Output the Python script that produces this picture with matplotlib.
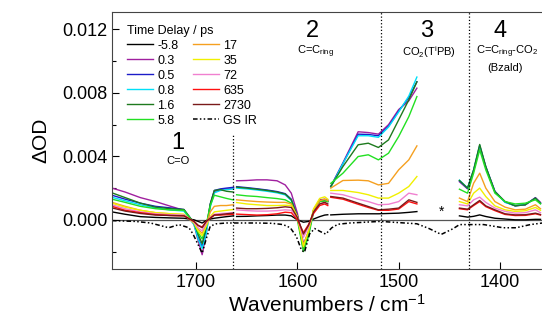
import matplotlib
matplotlib.use("Agg")
import matplotlib.pyplot as plt
import numpy as np

plt.rcParams['font.family'] = ['Liberation Sans', 'DejaVu Sans']
plt.rcParams['mathtext.fontset'] = 'custom'
plt.rcParams['mathtext.rm'] = 'Liberation Sans'
plt.rcParams['mathtext.it'] = 'Liberation Sans:italic'

# time delays (ps) and colours
delays = ["-5.8", "0.3", "0.5", "0.8", "1.6", "5.8", "17", "35", "72", "635", "2730"]
colors = ["#000000", "#a0209f", "#1c1cc8", "#00e0f8", "#1e7a1e", "#22e022",
          "#f5a020", "#f0f000", "#f080d0", "#ff1010", "#7a1a1a"]

# spectra in mOD, four windows, rows in the order of delays
wn_1 = [1783, 1770, 1755, 1740, 1725, 1712, 1702, 1698, 1694, 1690, 1686, 1682, 1676, 1670, 1663]
od_1 = [
    [0.5, 0.35, 0.2, 0.15, 0.12, 0.1, 0.0, -0.1, -0.2, -0.05, 0.05, 0.1, 0.15, 0.2, 0.25],
    [2.0, 1.75, 1.4, 1.15, 0.85, 0.6, -0.3, -1.3, -2.2, -0.9, 0.9, 1.75, 1.9, 1.95, 2.0],
    [1.55, 1.3, 1.05, 0.85, 0.75, 0.65, -0.2, -1.1, -1.7, -0.6, 1.0, 1.85, 1.95, 2.0, 2.05],
    [1.42, 1.2, 0.95, 0.75, 0.62, 0.55, -0.3, -1.2, -1.8, -0.9, 0.8, 1.7, 1.85, 1.9, 1.95],
    [1.7, 1.4, 1.05, 0.8, 0.7, 0.65, -0.2, -0.9, -1.5, -0.5, 1.0, 1.85, 1.9, 1.8, 1.75],
    [1.3, 1.1, 0.85, 0.7, 0.62, 0.6, -0.2, -0.8, -1.2, -0.3, 0.9, 1.55, 1.45, 1.35, 1.25],
    [1.1, 0.85, 0.6, 0.45, 0.38, 0.33, -0.2, -0.6, -0.85, -0.3, 0.5, 0.85, 0.9, 0.9, 0.95],
    [1.05, 0.8, 0.6, 0.45, 0.38, 0.35, -0.2, -0.7, -1.0, -0.4, 0.2, 0.5, 0.55, 0.6, 0.65],
    [0.95, 0.7, 0.5, 0.38, 0.32, 0.3, -0.15, -0.5, -0.7, -0.2, 0.15, 0.35, 0.4, 0.42, 0.45],
    [0.85, 0.6, 0.45, 0.33, 0.27, 0.25, -0.1, -0.35, -0.45, -0.1, 0.1, 0.3, 0.3, 0.32, 0.35],
    [0.75, 0.55, 0.4, 0.3, 0.27, 0.25, -0.1, -0.35, -0.5, -0.1, 0.1, 0.3, 0.33, 0.38, 0.42],
]

wn_2 = [1660, 1650, 1640, 1630, 1620, 1612, 1606, 1600, 1594, 1589, 1584, 1578, 1573, 1570]
od_2 = [
    [0.21, 0.22, 0.25, 0.27, 0.3, 0.3, 0.25, 0.0, -0.15, -0.1, 0.05, 0.2, 0.3, 0.32],
    [2.46, 2.48, 2.52, 2.52, 2.46, 2.2, 1.68, 0.42, -1.5, -0.8, 0.63, 1.26, 1.3, 1.26],
    [2.09, 2.03, 1.96, 1.88, 1.78, 1.65, 1.3, 0.25, -1.7, -0.8, 0.6, 1.2, 1.25, 1.2],
    [2.0, 1.95, 1.88, 1.8, 1.7, 1.57, 1.22, 0.18, -1.8, -0.9, 0.55, 1.18, 1.22, 1.15],
    [2.06, 2.0, 1.93, 1.85, 1.75, 1.62, 1.26, 0.21, -1.9, -0.84, 0.6, 1.15, 1.2, 1.15],
    [1.58, 1.51, 1.47, 1.4, 1.34, 1.26, 1.05, 0.0, -2.0, -1.05, 0.5, 1.15, 1.2, 1.15],
    [1.26, 1.2, 1.15, 1.12, 1.1, 1.1, 1.0, 0.2, -1.6, -0.7, 0.6, 1.2, 1.3, 1.2],
    [1.09, 1.0, 0.95, 0.9, 0.9, 0.92, 0.9, 0.2, -1.7, -0.7, 0.7, 1.35, 1.45, 1.3],
    [0.63, 0.58, 0.55, 0.55, 0.58, 0.63, 0.6, 0.1, -1.1, -0.45, 0.45, 1.0, 1.1, 1.0],
    [0.36, 0.33, 0.3, 0.32, 0.38, 0.48, 0.45, 0.0, -0.8, -0.3, 0.4, 0.9, 1.0, 0.9],
    [0.74, 0.7, 0.7, 0.72, 0.76, 0.82, 0.78, 0.15, -0.9, -0.35, 0.5, 1.0, 1.1, 1.0],
]

wn_3 = [1567, 1555, 1540, 1530, 1520, 1510, 1500, 1490, 1482]
od_3 = [
    [0.31, 0.35, 0.38, 0.38, 0.38, 0.4, 0.42, 0.47, 0.52],
    [2.1, 3.6, 5.55, 5.5, 5.4, 6.0, 6.95, 7.5, 8.3],
    [2.1, 3.55, 5.4, 5.38, 5.3, 5.9, 6.85, 7.7, 8.7],
    [2.05, 3.55, 5.3, 5.3, 5.2, 5.85, 6.8, 7.8, 9.0],
    [2.1, 3.36, 4.73, 4.83, 4.56, 5.04, 6.3, 7.56, 8.7],
    [2.3, 2.94, 3.99, 4.1, 3.78, 4.2, 5.25, 6.5, 7.77],
    [2.0, 2.48, 2.5, 2.46, 2.2, 2.3, 3.15, 3.78, 4.66],
    [1.85, 1.85, 1.72, 1.58, 1.37, 1.37, 1.68, 2.1, 2.73],
    [1.68, 1.58, 1.3, 1.15, 0.95, 0.98, 1.15, 1.68, 1.58],
    [1.42, 1.3, 0.98, 0.78, 0.6, 0.6, 0.68, 1.15, 1.0],
    [1.47, 1.37, 1.05, 0.84, 0.63, 0.67, 0.74, 1.26, 1.1],
]

wn_4 = [1440, 1432, 1426, 1420, 1414, 1405, 1395, 1385, 1375, 1365, 1360]
od_4 = [
    [0.25, 0.17, 0.22, 0.31, 0.21, 0.1, 0.05, 0.0, 0.0, 0.03, 0.03],
    [2.4, 1.95, 3.1, 4.6, 3.3, 1.75, 1.15, 0.9, 0.95, 1.4, 1.1],
    [2.45, 1.98, 3.1, 4.65, 3.35, 1.8, 1.12, 0.88, 0.95, 1.38, 1.05],
    [2.5, 2.0, 3.15, 4.7, 3.3, 1.75, 1.1, 0.9, 0.97, 1.35, 1.05],
    [2.48, 2.0, 3.15, 4.75, 3.36, 1.78, 1.15, 0.88, 0.95, 1.37, 1.05],
    [1.93, 1.68, 2.94, 4.41, 3.15, 1.68, 1.15, 1.0, 1.05, 1.26, 1.0],
    [1.37, 1.15, 2.31, 2.94, 2.0, 1.15, 0.8, 0.63, 0.67, 0.95, 0.7],
    [1.15, 1.0, 1.68, 2.0, 1.47, 0.88, 0.63, 0.53, 0.57, 0.78, 0.6],
    [0.95, 0.88, 1.26, 1.43, 1.1, 0.74, 0.53, 0.42, 0.45, 0.63, 0.45],
    [0.7, 0.63, 0.9, 1.15, 0.83, 0.58, 0.34, 0.27, 0.28, 0.38, 0.3],
    [0.74, 0.67, 0.95, 1.22, 0.88, 0.63, 0.38, 0.31, 0.32, 0.42, 0.33],
]

# ground state IR (scaled, mOD)
gs_wn = [1783, 1760, 1745, 1727, 1717, 1707, 1703, 1697, 1694, 1690, 1686, 1680,
         1670, 1640, 1625, 1614, 1607, 1601, 1596, 1593, 1588, 1583, 1577, 1572, 1566,
         1560, 1548, 1518, 1482, 1470, 1458, 1446, 1440, 1430, 1416, 1397, 1384, 1370, 1358]
gs_od = [-0.05, -0.1, -0.2, -0.5, -0.3, -0.5, -0.9, -1.7, -2.1, -1.2, -0.4, -0.25,
         -0.2, -0.2, -0.22, -0.3, -0.5, -1.05, -1.9, -2.05, -0.9, -0.55, -0.75, -0.9, -0.5,
         -0.28, -0.2, -0.1, -0.25, -0.55, -0.92, -0.55, -0.3, -0.3, -0.3, -0.5, -0.5, -0.3, -0.2]

regions = [(wn_1, od_1), (wn_2, od_2), (wn_3, od_3), (wn_4, od_4)]

fig = plt.figure(figsize=(5.42, 3.22), dpi=100)
ax = fig.add_axes([112 / 542, 1 - 269 / 322, 430 / 542, 257 / 322])

ax.axhline(0, color="#555555", lw=0.9, zorder=1)

for i, (lab, col) in enumerate(zip(delays, colors)):
    for j, (wn, od) in enumerate(regions):
        ax.plot(wn, np.array(od[i]) * 1e-3, color=col, lw=1.0,
                label=lab if j == 0 else None, zorder=2)

ax.plot(gs_wn, np.array(gs_od) * 1e-3, color="black", lw=1.1,
        ls=(0, (3, 1.5, 1, 1.5, 1, 1.5)), label="GS IR", zorder=2)

# window separators
ax.plot([1664, 1664], [-0.0031, 0.0054], color="black", ls=":", lw=0.9)
ax.axvline(1517, color="black", ls=":", lw=0.9)
ax.axvline(1431, color="black", ls=":", lw=0.9)

ax.set_xlim(1783, 1358.5)
ax.set_ylim(-0.0031, 0.0131)
ax.set_xticks([1700, 1600, 1500, 1400])
ax.set_yticks([0.0, 0.004, 0.008, 0.012])
ax.set_yticks([-0.002, 0.002, 0.006, 0.010], minor=True)
ax.yaxis.set_major_formatter(matplotlib.ticker.FormatStrFormatter('%.3f'))
ax.tick_params(which="major", direction="in", length=5, labelsize=13, width=0.8)
ax.tick_params(which="minor", direction="in", length=3, width=0.8)
ax.spines["right"].set_visible(False)
for s in ["left", "top", "bottom"]:
    ax.spines[s].set_color("#444444")

ax.set_xlabel("Wavenumbers / cm$^{-1}$", fontsize=15, labelpad=2)
ax.set_ylabel("\u0394OD", fontsize=15, labelpad=8)

leg = ax.legend(ncol=2, title="Time Delay / ps", loc="upper left",
                bbox_to_anchor=(0.035, 0.95), frameon=False, fontsize=9,
                title_fontsize=9, alignment="left", handlelength=2.1,
                handletextpad=0.3, columnspacing=1.2, labelspacing=0.24,
                borderpad=0.0, borderaxespad=0.0)

# band annotations
ax.text(1718, 0.00485, "1", fontsize=17, ha="center", va="center")
ax.text(1718, 0.0037, "C=O", fontsize=8, ha="center", va="center")
ax.text(1585.5, 0.0119, "2", fontsize=17, ha="center", va="center")
ax.text(1582, 0.0106, "C=C$_{\\rm ring}$", fontsize=8, ha="center", va="center")
ax.text(1472, 0.0119, "3", fontsize=17, ha="center", va="center")
ax.text(1470.5, 0.0106, "CO$_2$(T$^{\\rm i}$PB)", fontsize=8, ha="center", va="center")
ax.text(1400, 0.0119, "4", fontsize=17, ha="center", va="center")
ax.text(1392.5, 0.0106, "C=C$_{\\rm ring}$-CO$_2$", fontsize=8, ha="center", va="center")
ax.text(1395, 0.0096, "(Bzald)", fontsize=8, ha="center", va="center")
ax.text(1458, 0.00052, "*", fontsize=10, ha="center", va="center")

fig.savefig("out.png", dpi=100)
